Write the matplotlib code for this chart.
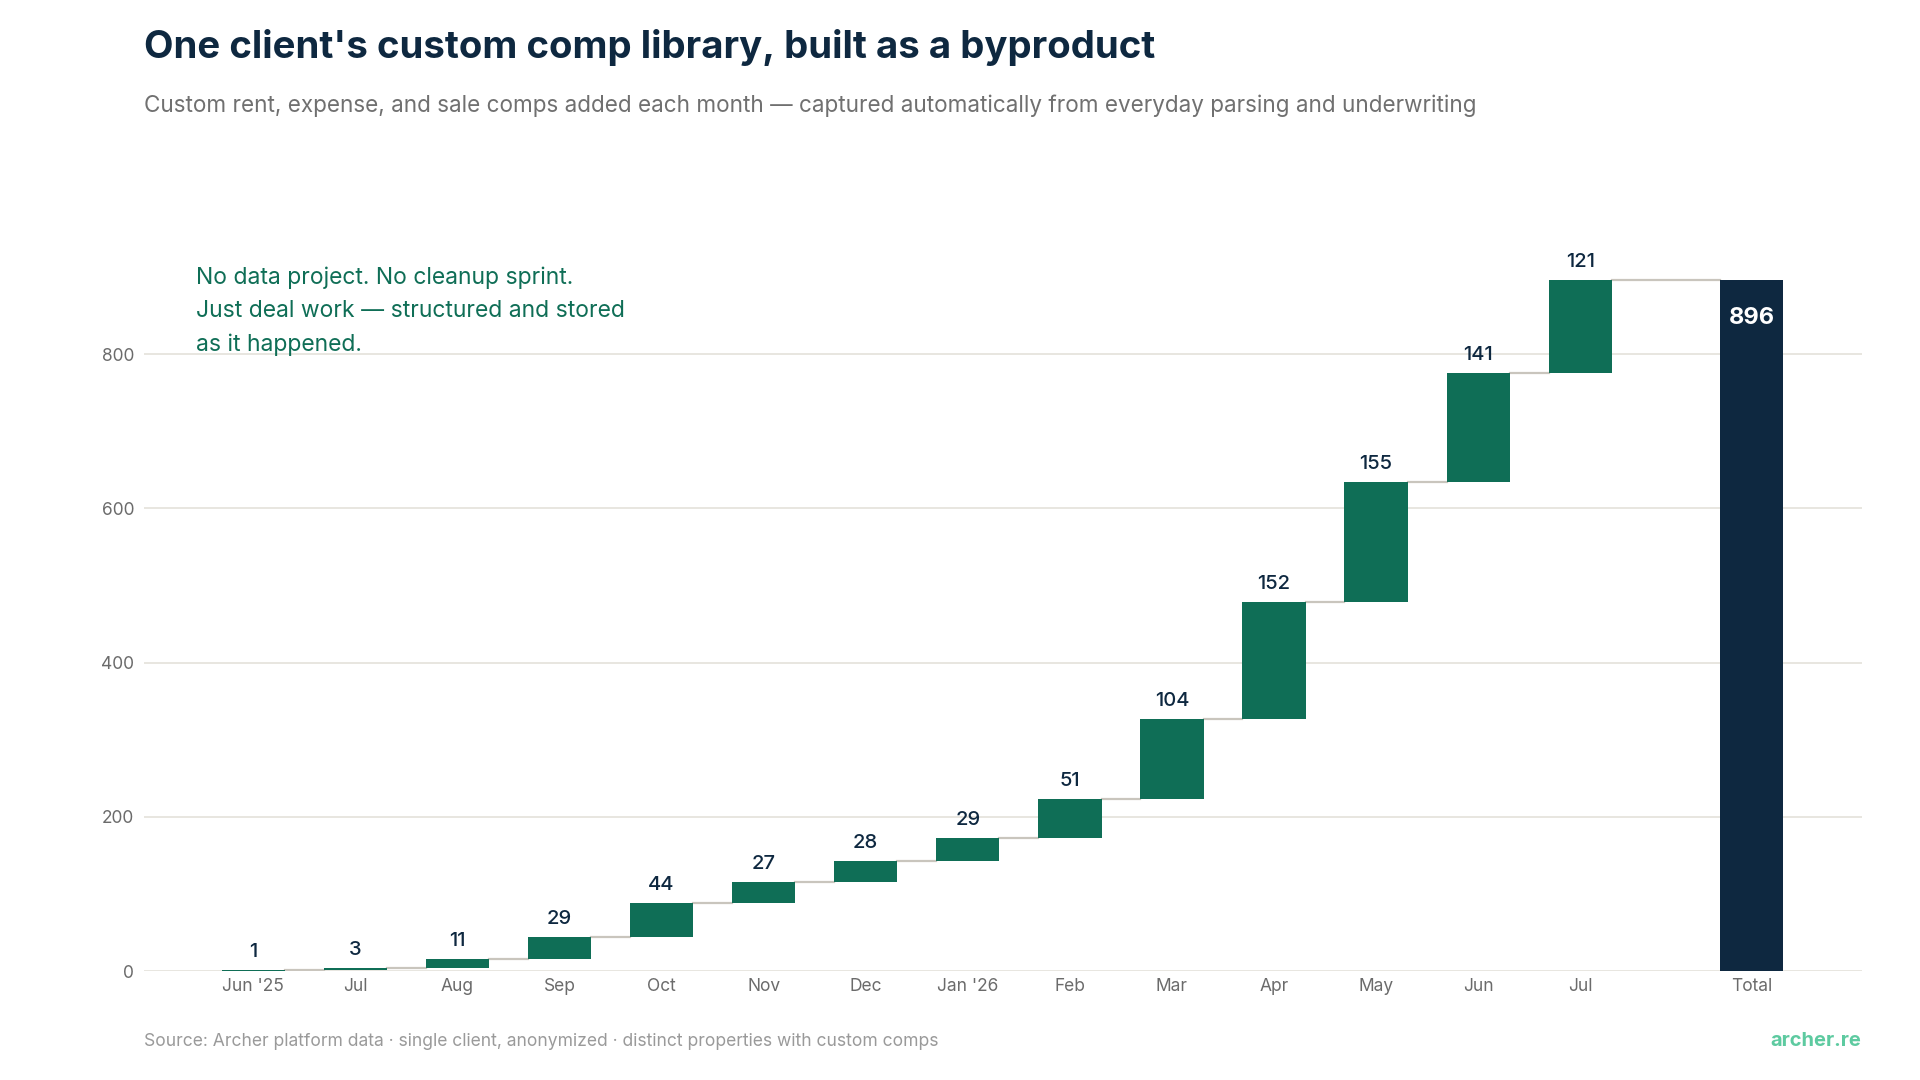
import matplotlib
matplotlib.use("Agg")
import matplotlib.pyplot as plt
import numpy as np

plt.rcParams['font.family'] = ['Inter', 'DejaVu Sans']

months = ["Jun '25", "Jul", "Aug", "Sep", "Oct", "Nov", "Dec", "Jan '26",
          "Feb", "Mar", "Apr", "May", "Jun", "Jul"]
added = [1, 3, 11, 29, 44, 27, 28, 29, 51, 104, 152, 155, 141, 121]
total_label = "Total"
yticks = [0, 200, 400, 600, 800]

GREEN = "#0f6e56"
NAVY = "#0e2840"
GRID = "#e8e6e0"
CONN = "#c9c5bd"
TICK = "#6b6b6b"

vals = np.array(added)
cum = np.cumsum(vals)
bottoms = cum - vals
total = int(cum[-1])

x = np.arange(len(months), dtype=float)
x_total = len(months) + 0.68
w = 0.62

fig = plt.figure(figsize=(19.2, 10.8), dpi=100)
ax = fig.add_axes([0.075, 0.1009, 0.8948, 0.714])

ax.set_ylim(0, 1000)
ax.set_xlim(-1.07, 15.76)

for yv in yticks:
    ax.axhline(yv, color=GRID, lw=1.4, zorder=0)

ax.bar(x, vals, bottom=bottoms, width=w, color=GREEN, zorder=3)
ax.bar([x_total], [total], width=w, color=NAVY, zorder=3)

# connectors
for i in range(len(months) - 1):
    ax.plot([x[i] + w / 2, x[i + 1] - w / 2], [cum[i], cum[i]], color=CONN, lw=1.6, zorder=2)
ax.plot([x[-1] + w / 2, x_total - w / 2], [cum[-1], cum[-1]], color=CONN, lw=1.6, zorder=2)

for xi, c, v in zip(x, cum, vals):
    ax.annotate(str(v), (xi, c), xytext=(0, 9), textcoords='offset pixels',
                ha='center', va='bottom', fontsize=14.5, color=NAVY, fontweight='medium')
ax.annotate(str(total), (x_total, total), xytext=(0, -38), textcoords='offset pixels',
            ha='center', va='center', fontsize=17, color='white', fontweight='bold')

ax.set_xticks(list(x) + [x_total])
ax.set_xticklabels(months + [total_label], fontsize=12.5, color=TICK)
ax.set_yticks(yticks)
ax.set_yticklabels([str(t) for t in yticks], fontsize=12.5, color=TICK)
ax.tick_params(axis='both', length=0)
ax.tick_params(axis='x', pad=5)
ax.tick_params(axis='y', pad=7)
for s in ax.spines.values():
    s.set_visible(False)

fig.text(144 / 1920, 1 - 47 / 1080, "One client's custom comp library, built as a byproduct",
         fontsize=27.6, fontweight='bold', color=NAVY, va='center', ha='left')
fig.text(144 / 1920, 1 - 106 / 1080,
         "Custom rent, expense, and sale comps added each month \u2014 captured automatically from everyday parsing and underwriting",
         fontsize=16.2, color="#707070", va='center', ha='left')

ann = "No data project. No cleanup sprint.\nJust deal work \u2014 structured and stored\nas it happened."
fig.text(196 / 1920, 1 - 311 / 1080, ann, fontsize=16.5, color=GREEN, va='center', ha='left',
         linespacing=1.65, fontweight='normal')

fig.text(144 / 1920, 1 - 1041 / 1080,
         "Source: Archer platform data \u00b7 single client, anonymized \u00b7 distinct properties with custom comps",
         fontsize=12.6, color="#9a9a9a", va='center', ha='left')
fig.text(1861 / 1920, 1 - 1041 / 1080, "archer.re", fontsize=14.5, color="#5dcaa0",
         fontweight='bold', va='center', ha='right')

fig.savefig("out.png", dpi=100, facecolor='white')
